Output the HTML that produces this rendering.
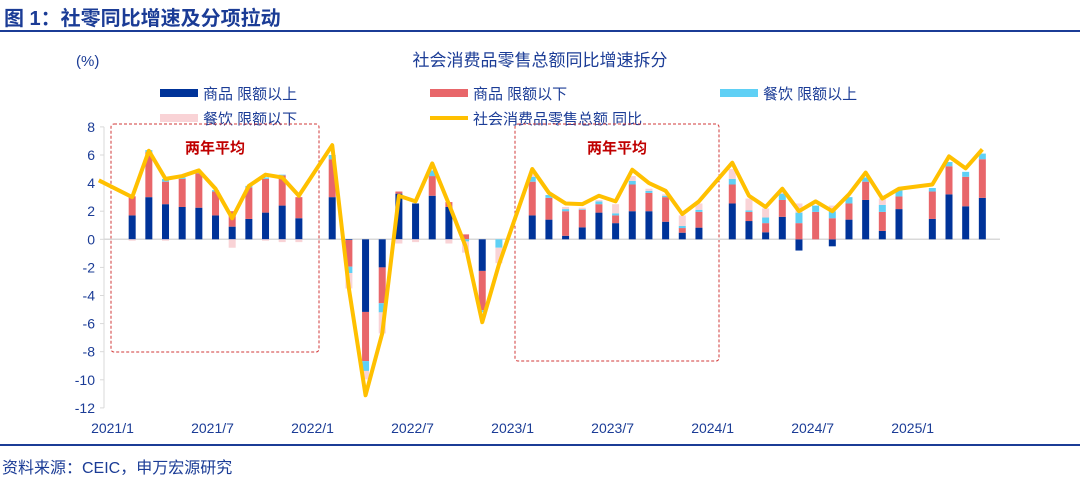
<!DOCTYPE html>
<html><head><meta charset="utf-8"><style>
body{margin:0;background:#fff;width:1080px;height:486px;overflow:hidden;font-family:"Liberation Sans","Noto Sans CJK SC",sans-serif;}
svg text{font-family:"Liberation Sans","Noto Sans CJK SC",sans-serif;}
</style></head><body>
<svg id="chart" width="1080" height="486" viewBox="0 0 1080 486" xmlns="http://www.w3.org/2000/svg">
<text x="4" y="25" font-size="20" font-weight="bold" fill="#1b3c96">图 1：社零同比增速及分项拉动</text>
<rect x="0" y="30" width="1080" height="2" fill="#1b3c96"/>
<text x="540" y="66" font-size="17" fill="#1b3c96" text-anchor="middle">社会消费品零售总额同比增速拆分</text>
<text x="76" y="66" font-size="15" fill="#1b3c96">(%)</text>
<g>
<g><rect x="160" y="89" width="38" height="8" fill="#003399"/><text x="203" y="99" font-size="15" fill="#1b3c96">商品 限额以上</text></g>
<g><rect x="430" y="89" width="38" height="8" fill="#e8666a"/><text x="473" y="99" font-size="15" fill="#1b3c96">商品 限额以下</text></g>
<g><rect x="720" y="89" width="38" height="8" fill="#5fd0f5"/><text x="763" y="99" font-size="15" fill="#1b3c96">餐饮 限额以上</text></g>
<g><rect x="160" y="114" width="38" height="8" fill="#f9d3d6"/><text x="203" y="124" font-size="15" fill="#1b3c96">餐饮 限额以下</text></g>
<g><rect x="430" y="116" width="38" height="4" fill="#ffc000"/><text x="473" y="124" font-size="15" fill="#1b3c96">社会消费品零售总额 同比</text></g>
</g>
<rect x="111" y="124" width="208" height="228" rx="3" fill="none" stroke="#d23a3a" stroke-dasharray="3,2"/>
<text x="215" y="153" font-size="15" font-weight="bold" fill="#c00000" text-anchor="middle">两年平均</text>
<rect x="515" y="124" width="204" height="237" rx="3" fill="none" stroke="#d23a3a" stroke-dasharray="3,2"/>
<text x="617" y="153" font-size="15" font-weight="bold" fill="#c00000" text-anchor="middle">两年平均</text>
<g id="axes"></g>
<g id="bars"></g>
<g id="line"></g>
<rect x="0" y="444" width="1080" height="2" fill="#1b3c96"/>
<text x="2" y="473" font-size="16" fill="#1b3c96">资料来源：CEIC，申万宏源研究</text>
</svg>
<script>
// month index 0 = 2021/1
const months = ["2021/2","2021/3","2021/4","2021/5","2021/6","2021/7","2021/8","2021/9","2021/10","2021/11","2021/12",
"2022/2","2022/3","2022/4","2022/5","2022/6","2022/7","2022/8","2022/9","2022/10","2022/11","2022/12",
"2023/2","2023/3","2023/4","2023/5","2023/6","2023/7","2023/8","2023/9","2023/10","2023/11","2023/12",
"2024/2","2024/3","2024/4","2024/5","2024/6","2024/7","2024/8","2024/9","2024/10","2024/11","2024/12",
"2025/2","2025/3","2025/4","2025/5"];
const goodsAbove = [1.7,3.0,2.5,2.3,2.25,1.7,0.9,1.45,1.9,2.4,1.5,
3.0,-0.05,-5.17,-2.0,3.25,2.55,3.1,2.3,0,-2.25,0,
1.7,1.4,0.25,0.85,1.9,1.15,2.0,2.0,1.25,0.47,0.83,
2.55,1.3,0.5,1.6,-0.8,0,-0.5,1.4,2.8,0.6,2.15,
1.45,3.2,2.35,2.95];
const goodsBelow = [1.36,3.2,1.6,2.0,2.45,1.7,1.1,2.25,2.4,2.15,1.5,
2.7,-1.9,-3.5,-2.55,0.15,0,1.4,0.35,0.35,-2.8,0,
2.4,1.55,1.75,1.25,0.6,0.55,1.9,1.3,1.75,0.33,1.12,
1.35,0.65,0.65,1.2,1.15,1.95,1.5,1.15,1.3,1.35,0.9,
1.95,2.0,2.1,2.75];
const cateringAbove = [0,0.15,0.2,0.1,0.1,0.1,0,0.1,0.1,0.05,0,
0.3,-0.45,-0.7,-0.65,0,0,0.4,0,-0.15,-0.15,-0.6,
0.35,0.2,0.15,0.05,0.2,0.15,0.25,0.15,0.1,0.15,0.15,
0.4,0.1,0.4,0.45,0.75,0.45,0.5,0.45,0.3,0.5,0.5,
0.25,0.3,0.35,0.4];
const cateringBelow = [-0.1,0,-0.1,0,0,0,-0.6,0,-0.1,-0.2,-0.2,
0,-1.1,-0.6,-1.5,-0.3,-0.2,0,-0.3,-0.8,0,-1.1,
0.2,0,0.15,0.1,0.1,0.65,0.35,0.15,0.1,0.75,0.45,
0.7,0.85,0.65,0.1,0.65,0,0.4,0,0,0.45,0,
0,0,0,0];
const lineMonths = ["2020/12"].concat(months);
const totalYoY = [4.2,3.0,6.3,4.3,4.5,4.9,3.6,1.5,3.8,4.6,4.4,3.1,
6.7,-3.5,-11.1,-6.7,3.1,2.7,5.4,2.5,-0.5,-5.9,-1.8,
5.0,3.3,2.55,2.5,3.1,2.7,4.95,4.0,3.45,1.8,2.7,
5.45,3.1,2.3,3.6,2.0,2.7,2.0,3.2,4.75,2.9,3.6,
3.9,5.9,5.05,6.4];
const yTicks = [8,6,4,2,0,-2,-4,-6,-8,-10,-12];
const xTickLabels = ["2021/1","2021/7","2022/1","2022/7","2023/1","2023/7","2024/1","2024/7","2025/1"];

const NS="http://www.w3.org/2000/svg";
function idx(m){const [y,mo]=m.split("/").map(Number);return (y-2021)*12+(mo-1);}
function xS(m){return 115.5+16.67*idx(m);}
function yS(v){return 239.3-v*14.05;}
function mk(tag,attrs,parent){const e=document.createElementNS(NS,tag);for(const k in attrs)e.setAttribute(k,attrs[k]);parent.appendChild(e);return e;}
const axes=document.getElementById('axes'),bars=document.getElementById('bars'),lineG=document.getElementById('line');

yTicks.forEach(t=>{
  const tx=mk('text',{x:95,y:yS(t)+5,'font-size':14,fill:'#1b3c96','text-anchor':'end'},axes);
  tx.textContent=t;
  
  
  const tk=mk('line',{x1:100,x2:104,y1:yS(t),y2:yS(t),stroke:'#d9d9d9'},axes);
  
  
});
const ya=mk('line',{x1:104,x2:104,y1:yS(8),y2:yS(-12),stroke:'#d9d9d9'},axes);


const za=mk('line',{x1:104,x2:1000,y1:yS(0),y2:yS(0),stroke:'#d9d9d9','stroke-width':1.5},axes);


xTickLabels.forEach(l=>{
  const tx=mk('text',{x:xS(l)-3,y:433,'font-size':14,fill:'#1b3c96','text-anchor':'middle'},axes);
  tx.textContent=l;
  
  
});

const series=[[goodsAbove,'#003399','goods-above'],[goodsBelow,'#e8666a','goods-below'],[cateringAbove,'#5fd0f5','catering-above'],[cateringBelow,'#f9d3d6','catering-below']];
months.forEach((m,i)=>{
  let pos=0,neg=0;const cx=xS(m);
  series.forEach(([arr,col,nm])=>{
    const v=arr[i];if(!v)return;
    let y0,y1;
    if(v>0){y0=pos;y1=pos+v;pos=y1;}else{y0=neg;y1=neg+v;neg=y1;}
    const r=mk('rect',{x:cx-3.5,width:7,y:Math.min(yS(y0),yS(y1)),height:Math.abs(yS(y1)-yS(y0)),fill:col},bars);
    
    
  });
});
const pts=lineMonths.map((m,i)=>xS(m)+','+yS(totalYoY[i])).join(' ');
const pl=mk('polyline',{points:pts,fill:'none',stroke:'#ffc000','stroke-width':4,'stroke-linejoin':'round'},lineG);


</script>
</body></html>
